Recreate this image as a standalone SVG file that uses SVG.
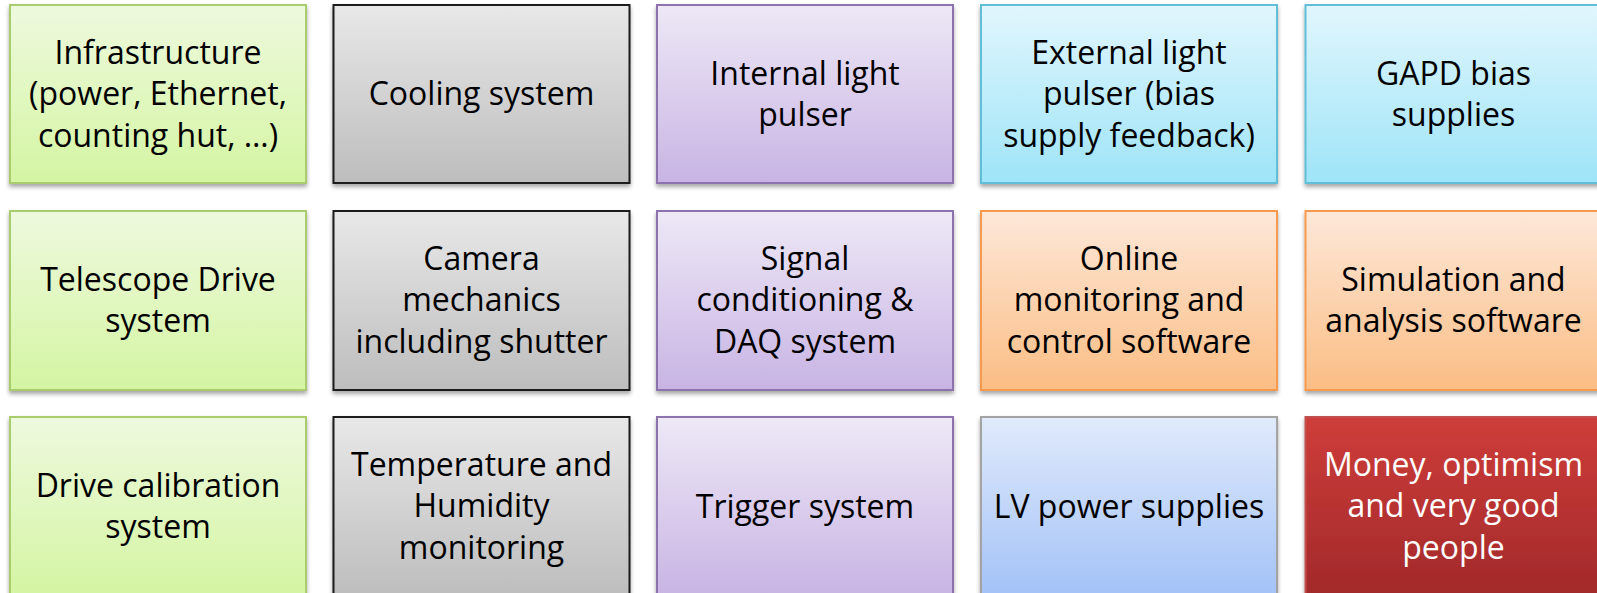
<svg xmlns="http://www.w3.org/2000/svg" width="1597" height="593" viewBox="0 0 1597 593">
<defs>
<filter id="sh" x="-5%" y="-5%" width="110%" height="115%">
<feDropShadow dx="0" dy="3" stdDeviation="2.2" flood-color="#000" flood-opacity="0.35"/>
</filter>
<linearGradient id="gGreen" x1="0" y1="0" x2="0" y2="1"><stop offset="0" stop-color="#eef9de"/><stop offset="1" stop-color="#d4f5a2"/></linearGradient>
<linearGradient id="gGray" x1="0" y1="0" x2="0" y2="1"><stop offset="0" stop-color="#e8e8e8"/><stop offset="1" stop-color="#bdbdbd"/></linearGradient>
<linearGradient id="gPurple" x1="0" y1="0" x2="0" y2="1"><stop offset="0" stop-color="#eee8f6"/><stop offset="1" stop-color="#c8b4e4"/></linearGradient>
<linearGradient id="gCyan" x1="0" y1="0" x2="0" y2="1"><stop offset="0" stop-color="#e1f6fd"/><stop offset="1" stop-color="#9ee4f8"/></linearGradient>
<linearGradient id="gOrange" x1="0" y1="0" x2="0" y2="1"><stop offset="0" stop-color="#fde8d9"/><stop offset="1" stop-color="#fbbd84"/></linearGradient>
<linearGradient id="gBlue" x1="0" y1="0" x2="0" y2="1"><stop offset="0" stop-color="#e0eafb"/><stop offset="1" stop-color="#a3c2f7"/></linearGradient>
<linearGradient id="gRed" x1="0" y1="0" x2="0" y2="1"><stop offset="0" stop-color="#ce3d3a"/><stop offset="1" stop-color="#a2292a"/></linearGradient>
</defs>
<style>
rect{stroke-width:2;filter:url(#sh)}
.green{fill:url(#gGreen);stroke:#a9cc6e}
.gray{fill:url(#gGray);stroke:#1a1a1a}
.purple{fill:url(#gPurple);stroke:#8d73ae}
.cyan{fill:url(#gCyan);stroke:#62bdd6}
.orange{fill:url(#gOrange);stroke:#f59a4f}
.blue{fill:url(#gBlue);stroke:#a3a3a3}
.red{fill:url(#gRed);stroke:#c0504d}
text{font-family:"Open Sans","Liberation Sans",sans-serif;font-size:32px;text-anchor:middle;fill:#000}
.w{fill:#fff}
</style>
<rect width="1597" height="593" fill="#fff" style="filter:none;stroke:none"/>
<g id="n-infrastructure"><rect class="green" x="10" y="5" width="296" height="178"/>
<text x="158" y="64"><tspan x="158">Infrastructure</tspan><tspan x="158" dy="41.3">(power, Ethernet,</tspan><tspan x="158" dy="41.3">counting hut, …)</tspan></text></g>
<g id="n-cooling"><rect class="gray" x="333.5" y="5" width="296" height="178"/>
<text x="481.5" y="105">Cooling system</text></g>
<g id="n-internal-pulser"><rect class="purple" x="657" y="5" width="296" height="178"/>
<text x="805" y="85"><tspan x="805">Internal light</tspan><tspan x="805" dy="41.3">pulser</tspan></text></g>
<g id="n-external-pulser"><rect class="cyan" x="981" y="5" width="296" height="178"/>
<text x="1129" y="64"><tspan x="1129">External light</tspan><tspan x="1129" dy="41.3">pulser (bias</tspan><tspan x="1129" dy="41.3">supply feedback)</tspan></text></g>
<g id="n-gapd-bias"><rect class="cyan" x="1305.5" y="5" width="296" height="178"/>
<text x="1453.5" y="85"><tspan x="1453.5">GAPD bias</tspan><tspan x="1453.5" dy="41.3">supplies</tspan></text></g>

<g id="n-drive"><rect class="green" x="10" y="211" width="296" height="179"/>
<text x="158" y="291"><tspan x="158">Telescope Drive</tspan><tspan x="158" dy="41.3">system</tspan></text></g>
<g id="n-mechanics"><rect class="gray" x="333.5" y="211" width="296" height="179"/>
<text x="481.5" y="270"><tspan x="481.5">Camera</tspan><tspan x="481.5" dy="41.3">mechanics</tspan><tspan x="481.5" dy="41.3">including shutter</tspan></text></g>
<g id="n-daq"><rect class="purple" x="657" y="211" width="296" height="179"/>
<text x="805" y="270"><tspan x="805">Signal</tspan><tspan x="805" dy="41.3">conditioning &amp;</tspan><tspan x="805" dy="41.3">DAQ system</tspan></text></g>
<g id="n-online"><rect class="orange" x="981" y="211" width="296" height="179"/>
<text x="1129" y="270"><tspan x="1129">Online</tspan><tspan x="1129" dy="41.3">monitoring and</tspan><tspan x="1129" dy="41.3">control software</tspan></text></g>
<g id="n-simulation"><rect class="orange" x="1305.5" y="211" width="296" height="179"/>
<text x="1453.5" y="291"><tspan x="1453.5">Simulation and</tspan><tspan x="1453.5" dy="41.3">analysis software</tspan></text></g>

<g id="n-drive-cal"><rect class="green" x="10" y="417" width="296" height="179"/>
<text x="158" y="497"><tspan x="158">Drive calibration</tspan><tspan x="158" dy="41.3">system</tspan></text></g>
<g id="n-temperature"><rect class="gray" x="333.5" y="417" width="296" height="179"/>
<text x="481.5" y="476"><tspan x="481.5">Temperature and</tspan><tspan x="481.5" dy="41.3">Humidity</tspan><tspan x="481.5" dy="41.3">monitoring</tspan></text></g>
<g id="n-trigger"><rect class="purple" x="657" y="417" width="296" height="179"/>
<text x="805" y="518">Trigger system</text></g>
<g id="n-lv"><rect class="blue" x="981" y="417" width="296" height="179"/>
<text x="1129" y="518">LV power supplies</text></g>
<g id="n-money"><rect class="red" x="1305.5" y="417" width="296" height="179"/>
<text class="w" x="1453.5" y="476"><tspan x="1453.5">Money, optimism</tspan><tspan x="1453.5" dy="41.3">and very good</tspan><tspan x="1453.5" dy="41.3">people</tspan></text></g>
<g id="connectors"></g>
</svg>
